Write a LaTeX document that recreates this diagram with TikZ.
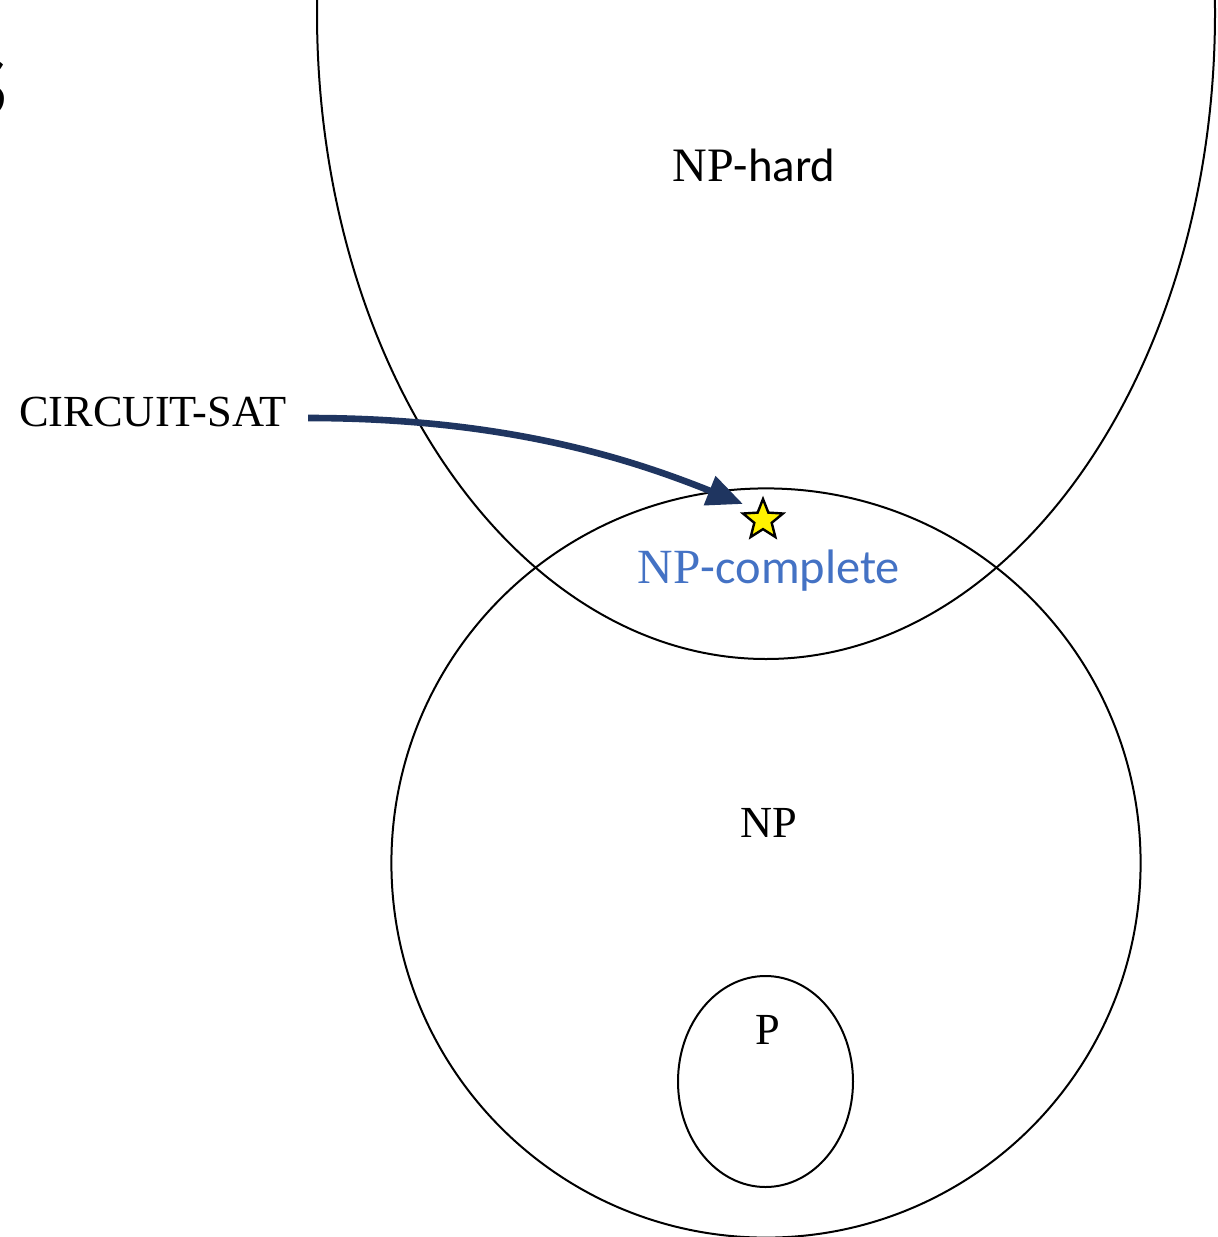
\documentclass[tikz,border=0pt]{standalone}
\usepackage{fontspec}
\setmainfont{Liberation Serif}
\newfontfamily\sansf{Carlito}
\usetikzlibrary{shapes.geometric,arrows.meta}
\definecolor{navy}{HTML}{1F3560}
\definecolor{npblue}{HTML}{4472C4}
\tikzset{
  region/.style={draw=black, line width=1pt},
  lbl/.style={inner sep=0pt, font=\fontsize{22.2pt}{26pt}\selectfont},
  starmark/.style={star, star points=5, star point ratio=2.3, minimum size=21pt, inner sep=0pt, draw=black, line width=1.2pt, fill=yellow},
  reduc/.style={draw=navy, line width=3.3pt, -{Triangle[length=18pt,width=15pt]}}
}
\begin{document}
\begin{tikzpicture}[x=0.5pt,y=-0.5pt]
\useasboundingbox (0,0) rectangle (1217,1237);
\begin{scope}
\clip (0,0) rectangle (1217,1237);
% partially cut-off glyph at the left edge (as in the reference)
\node[anchor=east, inner sep=0pt, font=\sansf\fontsize{60pt}{60pt}\selectfont] (cut) at (9,88) {s};
% NP-hard region
\draw[region] (766,13) ellipse [x radius=224.5pt, y radius=323pt];
% NP region
\draw[region] (766,863) circle [radius=187.3pt];
% P region
\draw[region] (765.5,1081.5) ellipse [x radius=43.75pt, y radius=52.75pt];
\end{scope}
\node[inner sep=0pt] (nphard) at (754,165) {\fontsize{24pt}{26pt}\selectfont NP{\sansf\fontsize{23.4pt}{26pt}\selectfont -hard}};
\node[inner sep=0pt, text=npblue] (npc) at (769,571) {\fontsize{24.6pt}{28pt}\selectfont NP{\sansf\fontsize{24.2pt}{28pt}\selectfont -complete}};
\node[lbl] (np) at (769,823) {NP};
\node[lbl] (p) at (768,1030) {P};
\node[lbl] (sat) at (153,412) {CIRCUIT-SAT};
\node[starmark] (st) at (763,520) {};
\draw[reduc] ([xshift=10.5pt,yshift=-3pt]sat.east) .. controls +(100pt,0pt) and +(-55pt,22pt) .. ([shift={(-20,-16)}]st.center);
\end{tikzpicture}
\end{document}
